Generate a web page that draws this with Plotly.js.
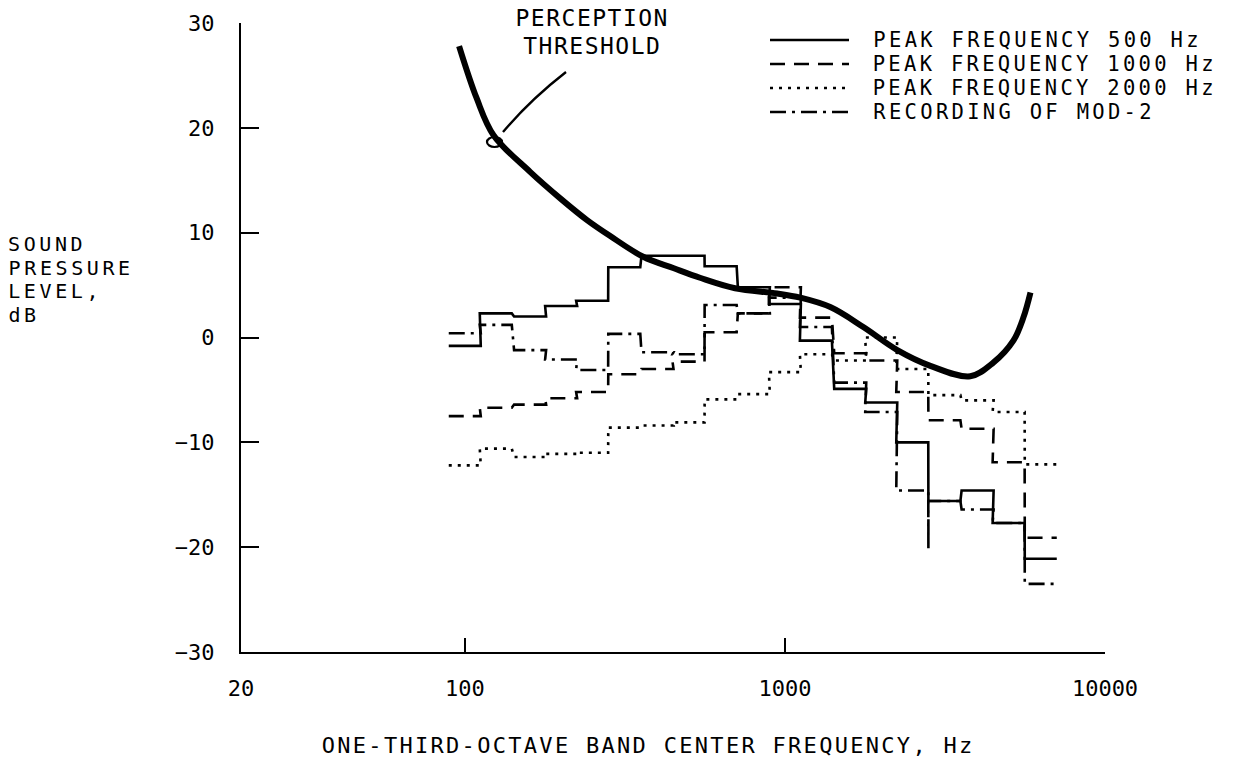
<!DOCTYPE html>
<html>
<head>
<meta charset="utf-8">
<script src="https://cdn.plot.ly/plotly-3.0.1.min.js"></script>
<style>
  html, body { margin: 0; padding: 0; background: #fff; }
  #chart { width: 1239px; height: 765px; }
</style>
</head>
<body>
<div id="chart"></div>
<script>
// One-third-octave band centre frequencies, Hz
const bandCenters = [100, 125, 160, 200, 250, 315, 400, 500, 630, 800,
                     1000, 1250, 1600, 2000, 2500, 3150, 4000, 5000, 6300];

// Band sound pressure levels, dB
const peak500  = [-0.8, 2.3, 2.0, 3.0, 3.5, 6.7, 7.8, 7.8, 6.8, 4.8,
                  3.2, -0.3, -4.9, -6.2, -10.0, -15.6, -14.6, -17.7, -21.1];
const peak1000 = [-7.5, -6.7, -6.4, -5.8, -5.2, -3.5, -3.0, -2.3, 0.5, 2.3,
                  4.8, 1.9, -1.5, -2.2, -5.2, -7.9, -8.7, -11.9, -19.1];
const peak2000 = [-12.2, -10.6, -11.4, -11.1, -11.0, -8.6, -8.4, -8.1, -5.9, -5.4,
                  -3.3, -1.6, -2.2, 0.0, -3.0, -5.5, -6.0, -7.1, -12.1];
const mod2     = [0.4, 1.2, -1.2, -2.1, -3.1, 0.35, -1.4, -1.6, 3.1, 2.3,
                  3.8, 1.0, -4.3, -7.1, -14.6, -15.6, -16.4, -17.7, -23.5];
// Pen dip of the MOD-2 trace at the lower edge of the 3150 Hz band
const mod2DipBand = 3150;
const mod2DipLevel = -20.2;

// Perception threshold curve
const thresholdFreq  = [96, 109, 123, 160, 200, 241, 284, 361, 450, 543, 699, 946,
                        1117, 1386, 1758, 2245, 2847, 3795, 4478, 5173, 5559, 5851];
const thresholdLevel = [27.8, 22.8, 19.3, 15.8, 13.2, 11.2, 9.7, 7.7, 6.6, 5.7, 4.7, 4.2,
                        3.8, 2.9, 1.0, -1.2, -2.7, -3.7, -2.4, -0.3, 1.9, 4.3];

// Axis ticks
const xTickVals = [20, 100, 1000, 10000];
const xTickText = ['20', '100', '1000', '10000'];
const yTickVals = [-30, -20, -10, 0, 10, 20, 30];

const legendNames = ['PEAK FREQUENCY 500 Hz', 'PEAK FREQUENCY 1000 Hz',
                     'PEAK FREQUENCY 2000 Hz', 'RECORDING OF MOD-2'];
const yTitleLines = ['SOUND', 'PRESSURE', 'LEVEL,', 'dB'];
const noteLines = ['PERCEPTION', 'THRESHOLD'];
const xTitle = 'ONE-THIRD-OCTAVE BAND CENTER FREQUENCY, Hz';

const FONT = 'DejaVu Sans Mono, Liberation Mono, monospace';
const ADVANCE = 0.602;             // glyph advance of the mono font, in em
const HALF = Math.pow(10, 0.05);   // one-sixth octave (band half width)

// Build a staircase: each band level spans its lower to upper band edge
function staircase(levels, dip) {
  const xs = [], ys = [];
  bandCenters.forEach((c, i) => {
    const lo = c / HALF, hi = c * HALF;
    if (dip && c === dip.band) {
      xs.push(lo); ys.push(dip.level);
    }
    xs.push(lo); ys.push(levels[i]);
    xs.push(hi); ys.push(levels[i]);
  });
  return { x: xs, y: ys };
}

const styles = [
  { dash: 'solid', width: 2.6 },
  { dash: '15px,9px', width: 2.6 },
  { dash: '3px,6px', width: 2.6 },
  { dash: '16px,6px,3px,6px', width: 2.6 }
];

const series = [peak500, peak1000, peak2000, mod2];
const traces = series.map((vals, i) => {
  const st = staircase(vals, i === 3 ? { band: mod2DipBand, level: mod2DipLevel } : null);
  return {
    type: 'scatter', mode: 'lines', name: legendNames[i],
    x: st.x, y: st.y,
    line: { color: '#000', width: styles[i].width, dash: styles[i].dash },
    hoverinfo: 'skip', showlegend: false
  };
});

traces.push({
  type: 'scatter', mode: 'lines', name: 'PERCEPTION THRESHOLD',
  x: thresholdFreq, y: thresholdLevel,
  line: { color: '#000', width: 6, shape: 'spline', smoothing: 1.0 },
  hoverinfo: 'skip', showlegend: false
});

// Plot area geometry in pixels, used to place the hand-drawn legend and notes
const L = 241, R = 1105, T = 23, B = 652;
const px = v => (v - L) / (R - L);
const py = v => (B - v) / (B - T);

const shapes = [];
const annotations = [];
const spacingRules = [];   // letter spacing per annotation, applied through CSS

// Text placed by its centre; a left edge is converted using the mono advance
function addText(text, x, y, size, spacing, fromLeft) {
  const cx = fromLeft ? x + text.length * (ADVANCE * size + spacing) / 2 : x;
  spacingRules.push(`g.annotation[data-index="${annotations.length}"] text { letter-spacing: ${spacing}px; }`);
  annotations.push({
    xref: 'paper', yref: 'paper', x: px(cx), y: py(y),
    xanchor: 'center', yanchor: 'middle', showarrow: false,
    text: text, font: { family: FONT, size: size, color: '#000' }
  });
}

// Legend: line samples and labels
const legendTop = 40, legendPitch = 24;
legendNames.forEach((name, i) => {
  const y = legendTop + legendPitch * i;
  shapes.push({
    type: 'line', xref: 'paper', yref: 'paper',
    x0: px(770), x1: px(849), y0: py(y), y1: py(y),
    line: { color: '#000', width: 2.4, dash: styles[i].dash }
  });
  addText(name, 873, y, 20.5, 3.3, true);
});

// Threshold label with its leader
noteLines.forEach((t, i) => addText(t, 592, 18 + 28 * i, 23, 1.5, false));
shapes.push({
  type: 'path', xref: 'paper', yref: 'paper',
  path: `M ${px(566)},${py(72)} Q ${px(530)},${py(100)} ${px(503)},${py(132)}`,
  line: { color: '#000', width: 2.4 }
});
shapes.push({
  type: 'circle', xref: 'paper', yref: 'paper',
  x0: px(487), x1: px(502), y0: py(147), y1: py(137),
  line: { color: '#000', width: 2.2 }
});

// Axis titles
addText(xTitle, 648, 745, 22, 2.3, false);
yTitleLines.forEach((t, i) => addText(t, 8, 244 + 23.5 * i, 20, 3.6, true));

const css = document.createElement('style');
css.textContent = spacingRules.join('\n');
document.head.appendChild(css);

const layout = {
  width: 1239, height: 765,
  paper_bgcolor: '#fff', plot_bgcolor: '#fff',
  margin: { l: L, r: 1239 - R, t: T, b: 765 - B, pad: 0 },
  showlegend: false,
  font: { family: FONT, size: 22, color: '#000' },
  xaxis: {
    type: 'log', range: [Math.log10(20), 4], autorange: false,
    tickmode: 'array', tickvals: xTickVals, ticktext: xTickText,
    ticks: 'inside', ticklen: 14, tickwidth: 2, tickcolor: '#000',
    showline: true, linecolor: '#000', linewidth: 2,
    showgrid: false, zeroline: false, ticklabelstandoff: 16,
    tickfont: { family: FONT, size: 22, color: '#000' }
  },
  yaxis: {
    range: [-30, 30], autorange: false,
    tickmode: 'array', tickvals: yTickVals,
    ticks: 'inside', ticklen: 18, tickwidth: 2, tickcolor: '#000',
    showline: true, linecolor: '#000', linewidth: 2,
    showgrid: false, zeroline: false, ticklabelstandoff: 20,
    tickfont: { family: FONT, size: 22, color: '#000' }
  },
  shapes: shapes,
  annotations: annotations
};

Plotly.newPlot('chart', traces, layout, { staticPlot: true, displayModeBar: false });
</script>
</body>
</html>
